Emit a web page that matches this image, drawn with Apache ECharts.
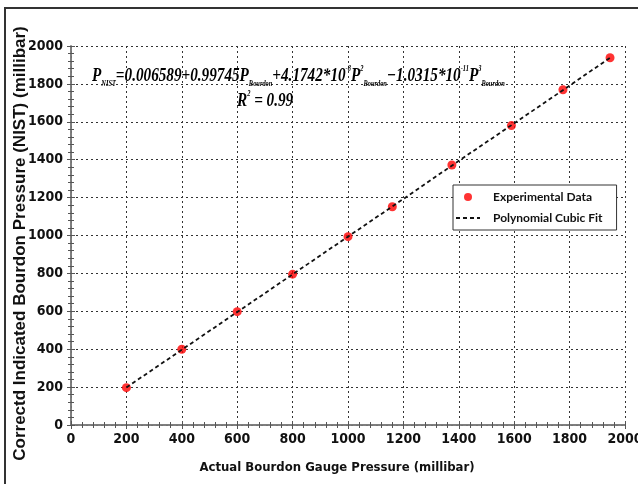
<!DOCTYPE html>
<html>
<head>
<meta charset="utf-8">
<script src="https://cdn.jsdelivr.net/npm/echarts@6/dist/echarts.min.js"></script>
<style>
  html, body { margin: 0; padding: 0; background: #fff; }
  #chart { width: 638px; height: 484px; }
</style>
</head>
<body>
<div id="chart"></div>
<script>
// data
var expX = [200, 400, 600, 800, 1000, 1160, 1375, 1590, 1776, 1946];
var expY = [197, 400, 598, 796, 994, 1152, 1372, 1580, 1769, 1938];
var fitX = [200, 400, 600, 800, 1000, 1200, 1400, 1600, 1800, 1946];
var fitY = [198, 397, 596, 795, 994, 1193, 1394, 1592, 1791, 1938];
var tickLabels = ["0", "200", "400", "600", "800", "1000", "1200", "1400", "1600", "1800", "2000"];

var narrow = "'DejaVu Sans Condensed', 'Liberation Sans Narrow', 'Liberation Sans', sans-serif";
var serif = "'Liberation Serif', 'Times New Roman', serif";

var myChart = echarts.init(document.getElementById("chart"));

function axisCommon() {
  return {
    type: "value",
    min: 0,
    max: 2000,
    interval: 200,
    axisLine: { show: true, lineStyle: { color: "#777", width: 1.5 } },
    axisTick: { show: true, inside: true, length: 4, lineStyle: { color: "#555" } },
    minorTick: { show: true, splitNumber: 5, length: 3, lineStyle: { color: "#555" } },
    splitLine: { show: false },
    axisLabel: { show: false }
  };
}

var labelStyle = {
  show: true,
  color: "#111",
  fontFamily: narrow,
  fontWeight: "bold",
  fontSize: 14,
  formatter: function (v) { return tickLabels[Math.round(v / 200)]; }
};
var gridLine = { show: true, lineStyle: { color: "#333", type: [2, 3], width: 1 } };

var xMain = axisCommon();
xMain.position = "bottom";
xMain.axisLabel = Object.assign({ margin: 7 }, labelStyle);
xMain.splitLine = gridLine;
xMain.name = "Actual Bourdon Gauge Pressure (millibar)";
xMain.nameLocation = "middle";
xMain.nameGap = 36;
xMain.nameMoveOverlap = false;
xMain.nameTextStyle = { color: "#111", fontFamily: narrow, fontWeight: "bold", fontSize: 13, padding: [0, 22, 0, 0] };

var xTop = axisCommon();
xTop.position = "top";

var yMain = axisCommon();
yMain.position = "left";
yMain.axisLabel = Object.assign({ margin: 8 }, labelStyle);
yMain.splitLine = gridLine;
yMain.name = "Correctd Indicated Bourdon Pressure (NIST) (millibar)";
yMain.nameLocation = "middle";
yMain.nameGap = 42;
yMain.nameMoveOverlap = false;
yMain.nameTextStyle = { color: "#111", fontFamily: "'Liberation Sans', Arial, sans-serif", fontWeight: "bold", fontSize: 17, padding: [0, 16, 0, 0] };

var yRight = axisCommon();
yRight.position = "right";

var eqMain = { fontFamily: serif, fontStyle: "italic", fontWeight: "bold", fontSize: 19, color: "#111", lineHeight: 24 };
var eqSub = { fontFamily: serif, fontStyle: "italic", fontWeight: "bold", fontSize: 8, color: "#111", verticalAlign: "bottom", lineHeight: 9 };
var eqSup = { fontFamily: serif, fontStyle: "italic", fontWeight: "bold", fontSize: 8, color: "#111", verticalAlign: "top", lineHeight: 10, padding: [1, 0, 0, 0] };

var option = {
  backgroundColor: "#fff",
  animation: false,
  grid: { left: 71, top: 46, right: 13, bottom: 59, show: false, outerBoundsMode: "none" },
  legend: {
    orient: "vertical",
    left: 453,
    top: 185,
    backgroundColor: "#fff",
    borderColor: "#333",
    borderWidth: 1,
    borderRadius: 0,
    padding: [6, 14, 6, 2],
    itemGap: 9,
    itemWidth: 24,
    itemHeight: 8,
    textStyle: { fontFamily: "Lato, 'Open Sans', sans-serif", fontWeight: "bold", fontSize: 12, color: "#111", padding: [0, 0, 0, 8] },
    data: [
      { name: "Experimental Data", icon: "circle", itemStyle: { color: "#ff0000" } },
      { name: "Polynomial Cubic Fit", itemStyle: { color: "rgba(0,0,0,0)", borderColor: "rgba(0,0,0,0)", borderWidth: 0 } }
    ]
  },
  xAxis: [xMain, xTop],
  yAxis: [yMain, yRight],
  series: [
    {
      name: "Polynomial Cubic Fit",
      type: "line",
      xAxisIndex: 0,
      yAxisIndex: 0,
      symbol: "none",
      z: 3,
      lineStyle: { color: "#111", width: 1.8, type: [4, 3] },
      itemStyle: { color: "#111" },
      data: fitX.map(function (x, i) { return [x, fitY[i]]; })
    },
    {
      name: "Experimental Data",
      type: "scatter",
      xAxisIndex: 0,
      yAxisIndex: 0,
      symbol: "circle",
      symbolSize: 9,
      z: 2,
      itemStyle: { color: "#ff0000" },
      data: expX.map(function (x, i) { return [x, expY[i]]; })
    }
  ],
  graphic: [
    {
      type: "rect",
      silent: true,
      shape: { x: 5, y: 8, width: 640, height: 490 },
      style: { fill: null, stroke: "#333", lineWidth: 2 }
    },
    {
      type: "text",
      x: 92,
      y: 64,
      scaleX: 0.8,
      z: 10,
      style: {
        text: "{m|P}{s|NIST}{m|=0.006589+0.99745P}{s|Bourdon}{m|+4.1742*10}{p|-8}{m|P}{p|2}{s|Bourdon}{m|\u22121.0315*10}{p|-11}{m|P}{p|3}{s|Bourdon}",
        rich: { m: eqMain, s: eqSub, p: eqSup }
      }
    },
    {
      type: "text",
      x: 237,
      y: 89,
      scaleX: 0.8,
      z: 10,
      style: {
        text: "{m|R}{p|2}{m| = 0.99}",
        rich: { m: eqMain, p: eqSup }
      }
    }
  ]
};

myChart.setOption(option);
</script>
</body>
</html>
